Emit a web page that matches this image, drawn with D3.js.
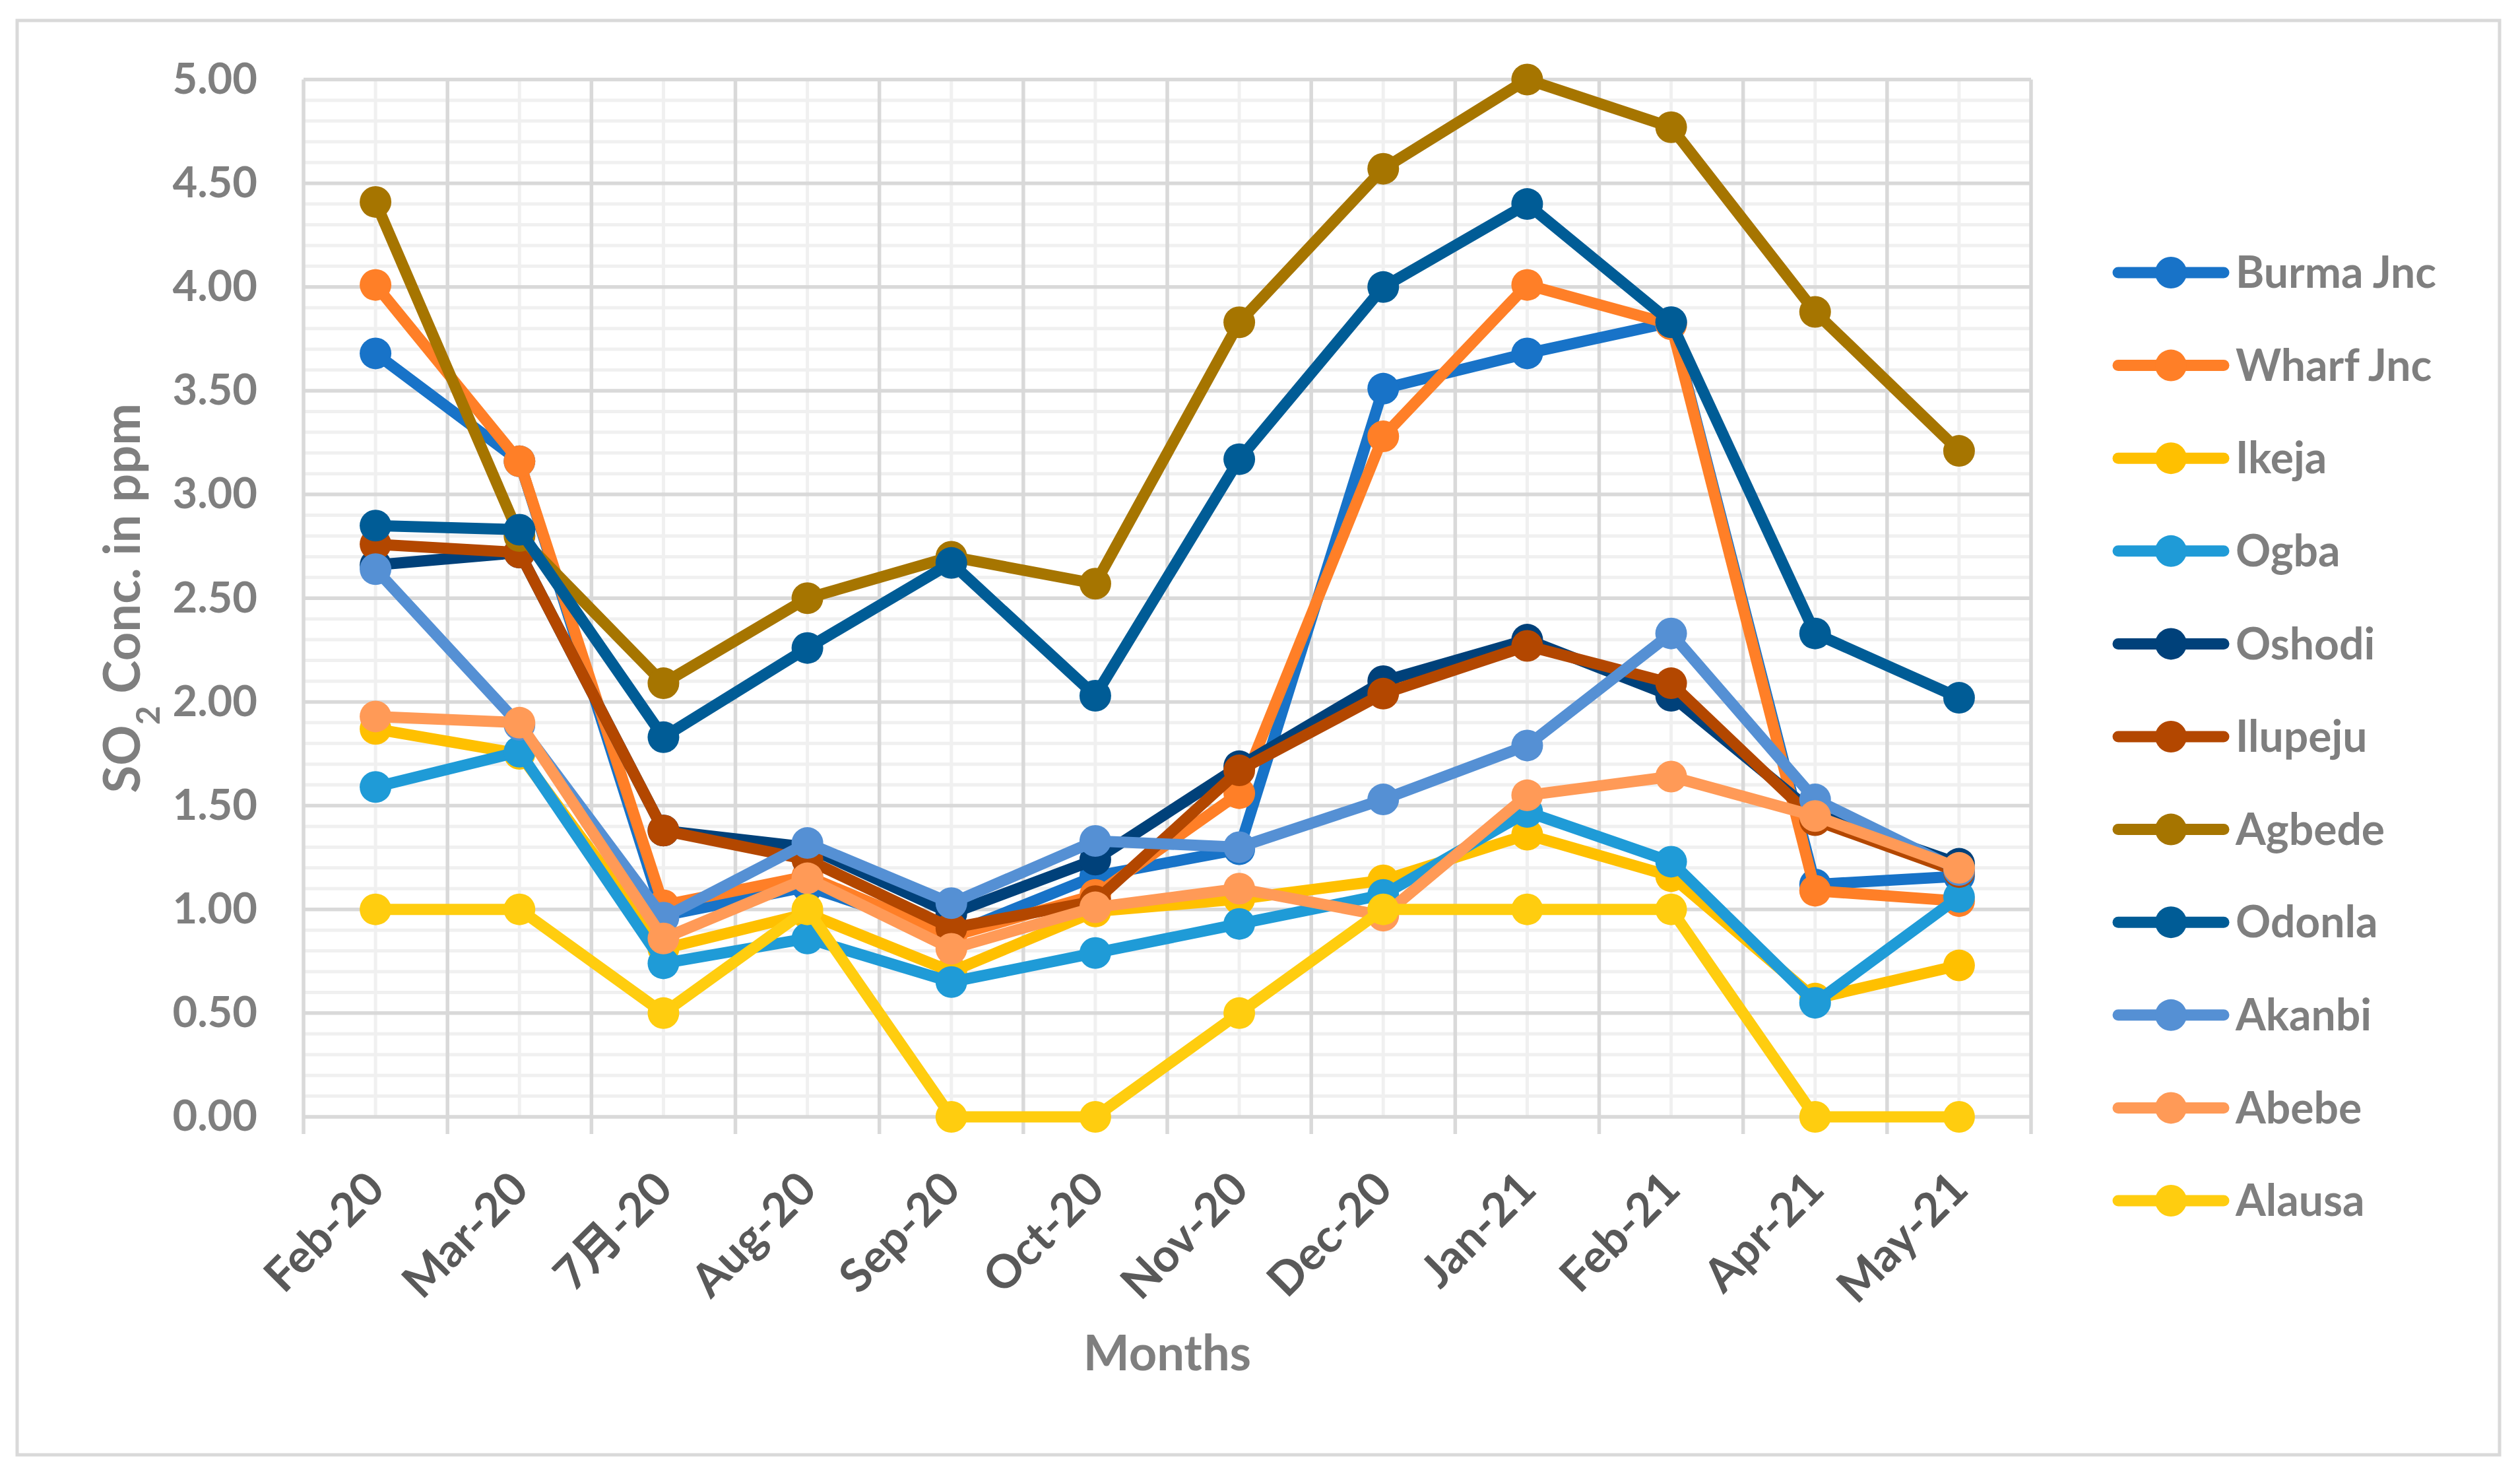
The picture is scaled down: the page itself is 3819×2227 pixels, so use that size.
<!DOCTYPE html>
<html>
<head>
<meta charset="utf-8">
<script src="https://cdn.jsdelivr.net/npm/d3@7"></script>
<style>
  body { margin: 0; background: #fff; }
  svg { display: block; font-family: Lato, "Noto Sans CJK SC", sans-serif; font-weight: bold; }
</style>
</head>
<body>
<svg id="chart" width="3819" height="2227"></svg>
<script>
// months on the category axis (the third one is written in Chinese in the source)
const categories = ["Feb-20", "Mar-20", "7月-20", "Aug-20", "Sep-20", "Oct-20", "Nov-20", "Dec-20", "Jan-21", "Feb-21", "Apr-21", "May-21"];

// SO2 readings in ppm, one array per station
const burmaJnc = [3.68, 3.16, 0.97, 1.11, 0.88, 1.16, 1.29, 3.51, 3.68, 3.83, 1.12, 1.16];
const wharfJnc = [4.01, 3.16, 1.02, 1.16, 0.87, 1.07, 1.56, 3.28, 4.01, 3.82, 1.09, 1.04];
const ikeja    = [1.87, 1.75, 0.81, 0.98, 0.70, 0.99, 1.05, 1.14, 1.36, 1.16, 0.57, 0.73];
const ogba     = [1.59, 1.76, 0.74, 0.86, 0.65, 0.79, 0.93, 1.07, 1.47, 1.23, 0.55, 1.06];
const oshodi   = [2.66, 2.72, 1.38, 1.30, 0.98, 1.24, 1.69, 2.10, 2.30, 2.03, 1.46, 1.22];
const ilupeju  = [2.76, 2.72, 1.38, 1.24, 0.91, 1.04, 1.67, 2.04, 2.27, 2.09, 1.43, 1.18];
const agbede   = [4.41, 2.80, 2.09, 2.50, 2.70, 2.57, 3.83, 4.57, 5.00, 4.77, 3.88, 3.21];
const odonla   = [2.85, 2.83, 1.83, 2.26, 2.67, 2.03, 3.17, 4.00, 4.40, 3.83, 2.33, 2.02];
const akanbi   = [2.64, 1.89, 0.96, 1.32, 1.03, 1.33, 1.30, 1.53, 1.79, 2.33, 1.53, 1.19];
const abebe    = [1.93, 1.90, 0.86, 1.15, 0.81, 1.01, 1.10, 0.97, 1.55, 1.64, 1.45, 1.20];
const alausa   = [1.00, 1.00, 0.50, 1.00, 0.00, 0.00, 0.50, 1.00, 1.00, 1.00, 0.00, 0.00];

const seriesNames = ["Burma Jnc", "Wharf Jnc", "Ikeja", "Ogba", "Oshodi", "Ilupeju", "Agbede", "Odonla", "Akanbi", "Abebe", "Alausa"];
const seriesValues = [burmaJnc, wharfJnc, ikeja, ogba, oshodi, ilupeju, agbede, odonla, akanbi, abebe, alausa];
const seriesColors = ["#1873c8", "#ff7f27", "#ffc000", "#1f9bd7", "#00417a", "#b34700", "#a67500", "#005c96", "#5590d4", "#ff9a57", "#ffcd0f"];

const yTickValues = [0, 0.5, 1, 1.5, 2, 2.5, 3, 3.5, 4, 4.5, 5];

const series = seriesNames.map((name, i) => ({
  name: name,
  color: seriesColors[i],
  values: seriesValues[i].map((v, j) => ({ cat: categories[j], value: v }))
}));

const svg = d3.select("#chart");
const plot = { left: 460, right: 3078, top: 120.5, bottom: 1692 };
const textGrey = "#7f7f7f";

// outer chart frame
svg.append("rect")
  .attr("x", 26).attr("y", 31)
  .attr("width", 3762).attr("height", 2173)
  .attr("fill", "#fff")
  .attr("stroke", "#d9d9d9")
  .attr("stroke-width", 5);

const x = d3.scaleBand()
  .domain(categories)
  .range([plot.left, plot.right]);

const y = d3.scaleLinear()
  .domain([0, 5])
  .range([plot.bottom, plot.top]);

const cx = d => x(d) + x.bandwidth() / 2;

// minor grid (every 0.1 and at category centres)
const minor = svg.append("g").attr("stroke", "#f0f0f0").attr("stroke-width", 5);
minor.selectAll(".hmin")
  .data(y.ticks(50).filter(t => Math.round(t * 10) % 5 !== 0))
  .enter().append("line")
  .attr("x1", plot.left).attr("x2", plot.right)
  .attr("y1", d => y(d)).attr("y2", d => y(d));
minor.selectAll(".vmin")
  .data(categories)
  .enter().append("line")
  .attr("x1", d => cx(d)).attr("x2", d => cx(d))
  .attr("y1", plot.top).attr("y2", plot.bottom);

// major grid (every 0.5 and between categories, with outside ticks)
const major = svg.append("g").attr("stroke", "#d9d9d9").attr("stroke-width", 5.5);
major.selectAll(".vmaj")
  .data(categories.map(c => x(c)).concat([x.range()[1]]))
  .enter().append("line")
  .attr("x1", d => d).attr("x2", d => d)
  .attr("y1", plot.top).attr("y2", plot.bottom + 26);
major.selectAll(".hmaj")
  .data(yTickValues)
  .enter().append("line")
  .attr("x1", plot.left).attr("x2", plot.right)
  .attr("y1", d => y(d)).attr("y2", d => y(d));

// y axis labels
svg.append("g")
  .attr("transform", `translate(${plot.left - 70},0)`)
  .call(d3.axisLeft(y).tickValues(yTickValues).tickFormat(d3.format(".2f")).tickSize(0))
  .call(g => g.select(".domain").remove())
  .selectAll("text")
  .attr("x", 0)
  .attr("fill", textGrey)
  .style("font-size", "65px")
  .style("font-family", "Lato, sans-serif")
  .style("font-weight", "bold");

// x axis labels, turned 45 degrees
svg.append("g")
  .selectAll("text")
  .data(categories)
  .enter().append("text")
  .attr("transform", d => `translate(${cx(d)},${plot.bottom + 96}) rotate(-45)`)
  .attr("text-anchor", "end")
  .attr("dy", "0.35em")
  .attr("fill", "#595959")
  .style("font-size", "70px")
  .text(d => d);

// axis titles
const yTitle = svg.append("text")
  .attr("transform", `translate(212,${(plot.top + plot.bottom) / 2}) rotate(-90)`)
  .attr("text-anchor", "middle")
  .attr("fill", textGrey)
  .style("font-size", "76px");
yTitle.append("tspan").text("SO");
yTitle.append("tspan").attr("baseline-shift", "sub").style("font-size", "50px").text("2");
yTitle.append("tspan").text(" Conc. in ppm");

svg.append("text")
  .attr("x", (plot.left + plot.right) / 2)
  .attr("y", 2076)
  .attr("text-anchor", "middle")
  .attr("fill", textGrey)
  .style("font-size", "74px")
  .text("Months");

// lines and markers, one group per station so later stations sit on top
const line = d3.line()
  .x(d => cx(d.cat))
  .y(d => y(d.value));

const groups = svg.append("g")
  .selectAll("g")
  .data(series)
  .enter().append("g");

groups.append("path")
  .attr("d", d => line(d.values))
  .attr("fill", "none")
  .attr("stroke", d => d.color)
  .attr("stroke-width", 17)
  .attr("stroke-linejoin", "round")
  .attr("stroke-linecap", "round");

groups.selectAll("circle")
  .data(d => d.values.map(v => ({ ...v, color: d.color })))
  .enter().append("circle")
  .attr("cx", d => cx(d.cat))
  .attr("cy", d => y(d.value))
  .attr("r", 24)
  .attr("fill", d => d.color);

// legend
const legend = svg.append("g")
  .selectAll("g")
  .data(series)
  .enter().append("g")
  .attr("transform", (d, i) => `translate(3290,${413 + i * 140.6})`);

legend.append("line")
  .attr("x1", -80).attr("x2", 80)
  .attr("stroke", d => d.color)
  .attr("stroke-width", 17)
  .attr("stroke-linecap", "round");

legend.append("circle")
  .attr("r", 24)
  .attr("fill", d => d.color);

legend.append("text")
  .attr("x", 98)
  .attr("dy", "0.35em")
  .attr("fill", textGrey)
  .style("font-size", "66px")
  .text(d => d.name);
</script>
</body>
</html>
